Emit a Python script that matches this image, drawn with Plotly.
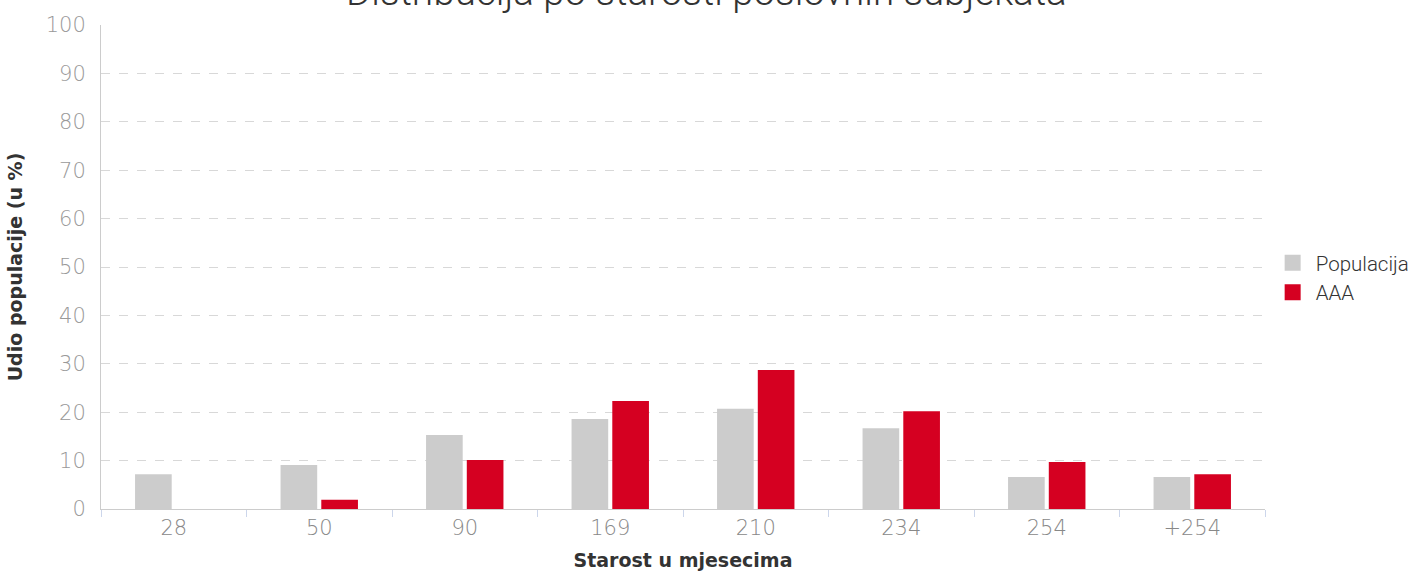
import plotly.graph_objects as go

categories = ["28", "50", "90", "169", "210", "234", "254", "+254"]
populacija = [7.2, 9.1, 15.3, 18.6, 20.7, 16.7, 6.6, 6.6]
aaa = [0.0, 1.9, 10.1, 22.3, 28.7, 20.2, 9.7, 7.2]
y_ticks = [0, 10, 20, 30, 40, 50, 60, 70, 80, 90, 100]
series_names = ["Populacija", "AAA"]
series_colors = ["#cccccc", "#d50021"]
title_text = "Distribucija po starosti poslovnih subjekata"

fig = go.Figure()
for name, vals, col in zip(series_names, [populacija, aaa], series_colors):
    fig.add_trace(go.Bar(x=categories, y=vals, name=name, marker_color=col,
                         marker_line_width=0, showlegend=False))
# legend-only entries with larger square symbols
for name, col in zip(series_names, series_colors):
    fig.add_trace(go.Scatter(x=[None], y=[None], mode="markers", name=name,
                             marker=dict(symbol="square", size=22, color=col)))

fig.add_annotation(text=title_text, xref="paper", yref="paper", x=0.5206, y=1.0,
                   xanchor="center", yanchor="bottom", yshift=9, showarrow=False,
                   font=dict(family="Roboto", weight=300, size=38.5, color="#333333"))

fig.update_layout(
    width=1414, height=571,
    margin=dict(l=101, r=149, t=25, b=62, autoexpand=False),
    paper_bgcolor="white", plot_bgcolor="white",
    barmode="group", bargap=0.44, bargroupgap=0.1,
    legend=dict(x=1.004, y=0.55, xanchor="left", yanchor="top",
                font=dict(family="Roboto", weight=300, size=20.5, color="#333333"),
                itemsizing="trace", tracegroupgap=0, itemwidth=36),
    font=dict(family="Roboto"),
)
fig.update_xaxes(
    type="category", tickson="boundaries", ticks="outside", ticklen=7, tickcolor="#ccd6eb",
    showline=True, linecolor="#cccccc", linewidth=1, showgrid=False, automargin=False,
    tickfont=dict(family="DejaVu Sans", weight=200, size=21, color="#888888"),
    title=dict(text="Starost u mjesecima", standoff=14,
               font=dict(family="DejaVu Sans", weight=600, size=19, color="#333333")),
)
fig.update_yaxes(
    range=[0, 100], tickvals=y_ticks, showline=True, linecolor="#cccccc", linewidth=1,
    showgrid=True, gridcolor="#d8d8d8", griddash="dash", zeroline=False, automargin=False,
    tickfont=dict(family="DejaVu Sans", weight=200, size=21, color="#999999"),
    ticks="", ticklabelstandoff=10,
    title=dict(text="Udio populacije (u %)", standoff=18,
               font=dict(family="DejaVu Sans", weight=600, size=19, color="#333333")),
)
fig.write_html("out.html", config={"displayModeBar": False},
               post_script="document.body.style.margin='0';")
